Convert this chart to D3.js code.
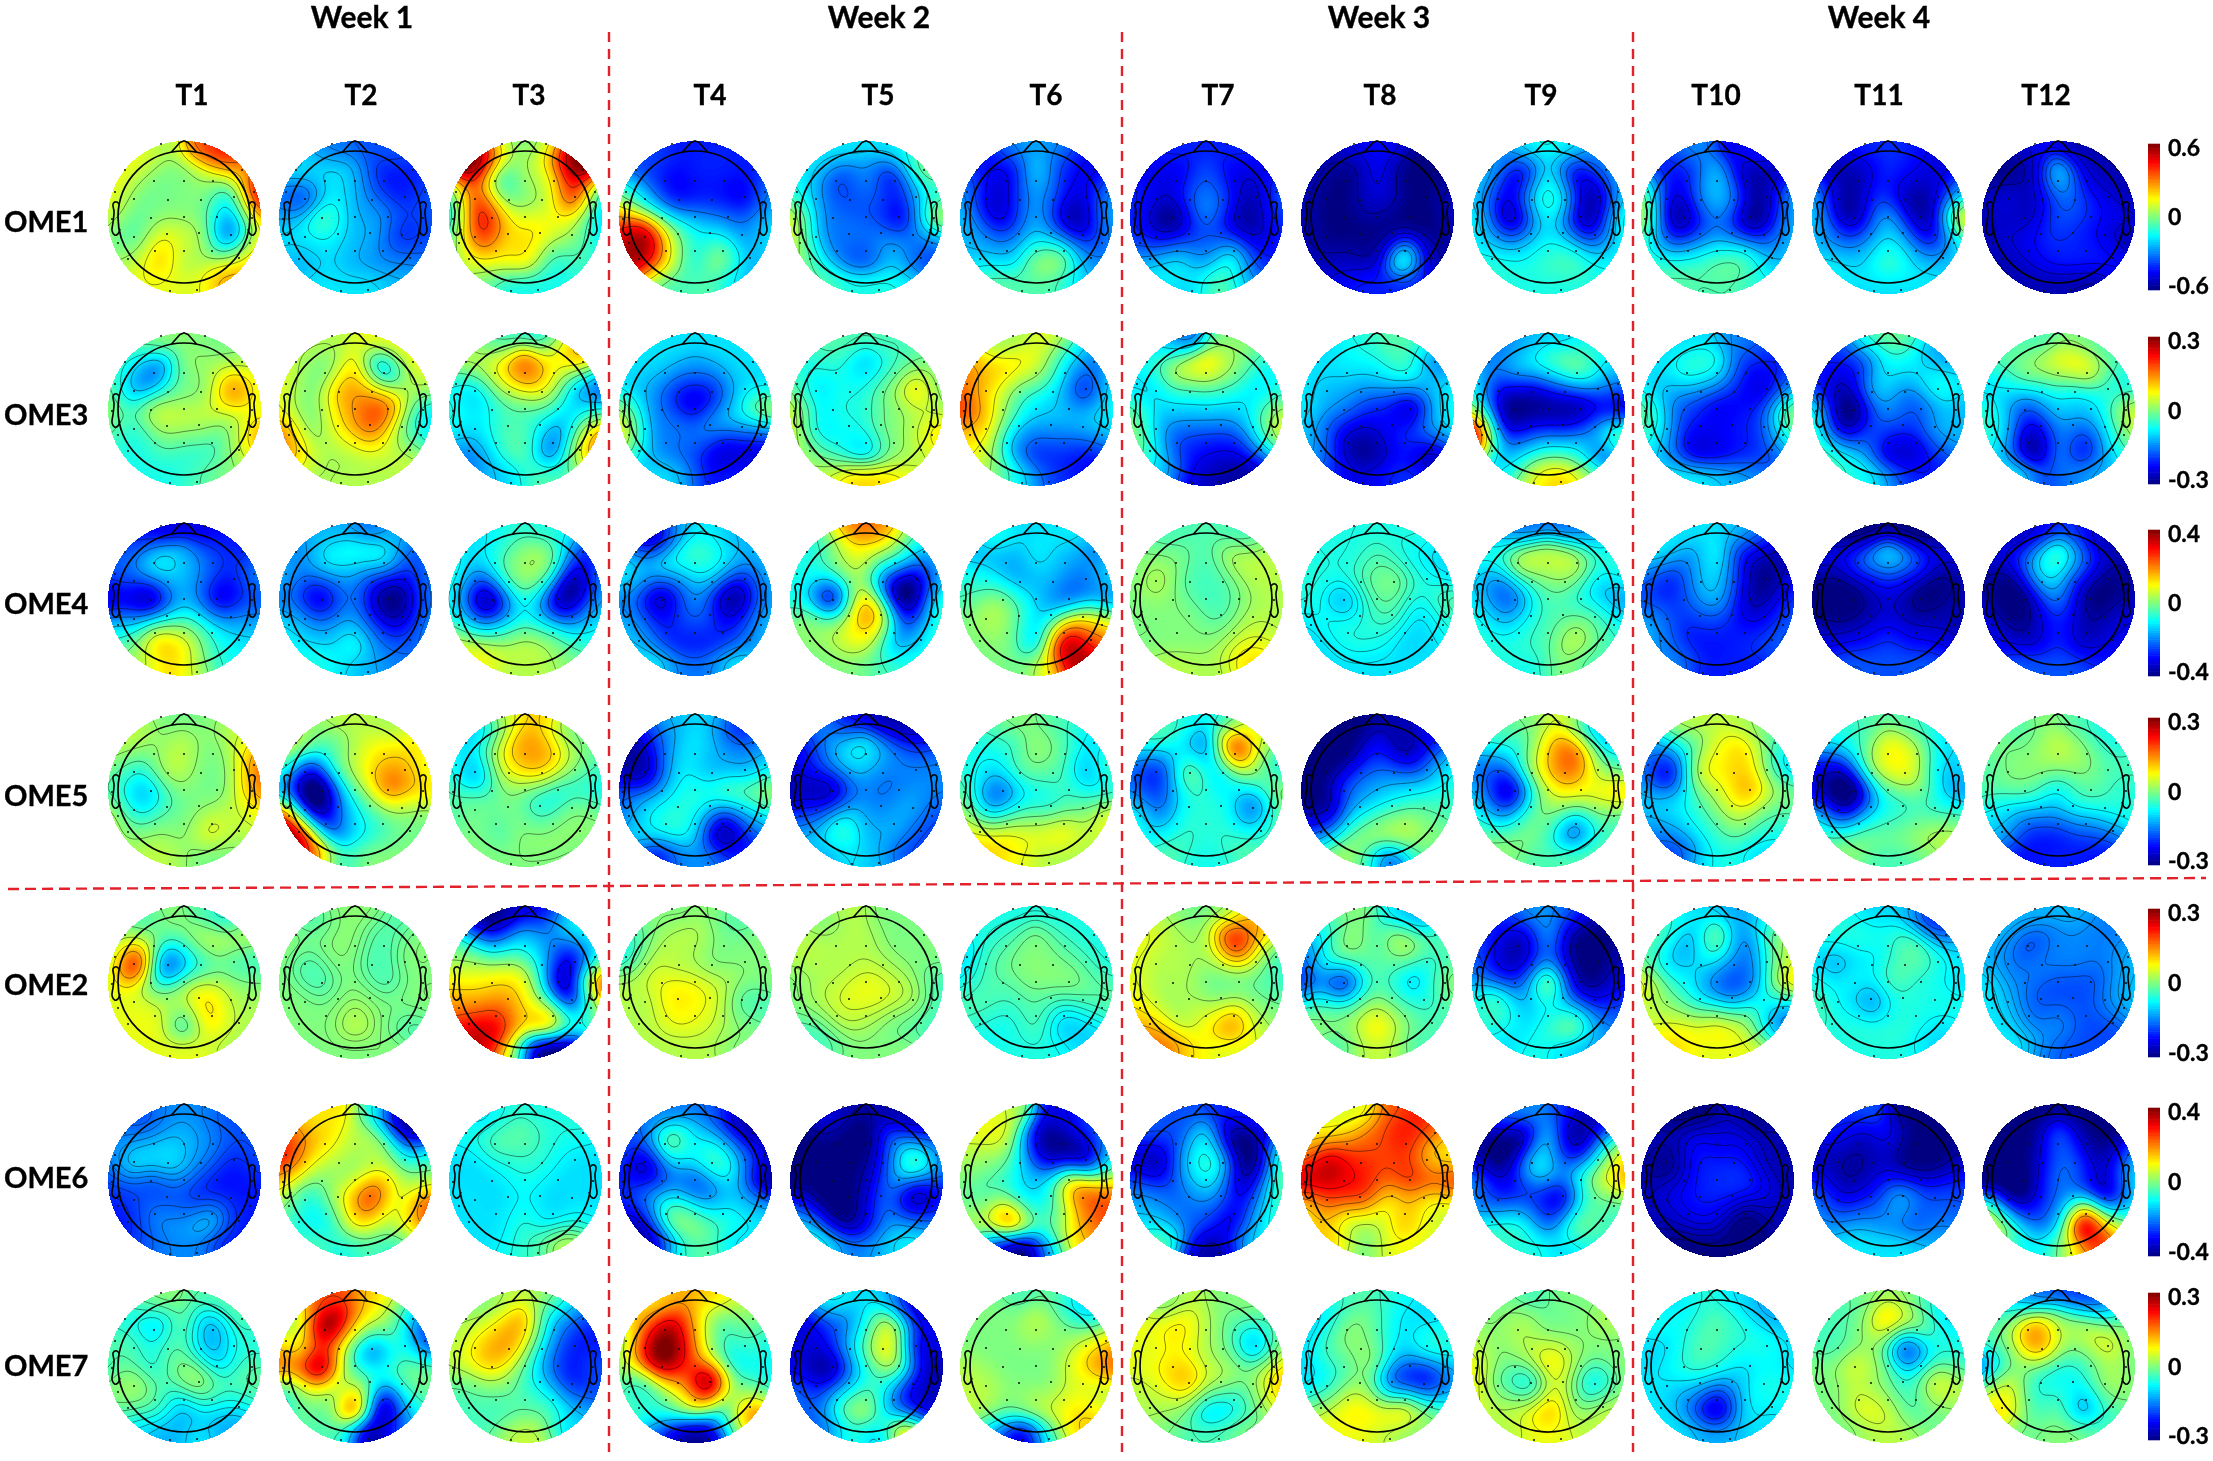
<!DOCTYPE html>
<html><head><meta charset="utf-8">
<script src="https://cdn.jsdelivr.net/npm/d3@7/dist/d3.min.js"></script>
<style>
html,body{margin:0;padding:0;background:#fff}
#wrap{position:relative;width:2213px;height:1461px;overflow:hidden}
canvas,svg{position:absolute;left:0;top:0}
text{font-family:Lato,"Open Sans",sans-serif;font-weight:700;fill:#000;stroke:#000;stroke-width:.35}
</style></head><body><div id="wrap"><canvas id="cv" width="2213" height="1461"></canvas><svg id="sv" width="2213" height="1461"></svg></div>
<script>
// Tick / row labels
const weeks = ["Week 1","Week 2","Week 3","Week 4"];
const times = ["T1","T2","T3","T4","T5","T6","T7","T8","T9","T10","T11","T12"];
const rows  = ["OME1","OME3","OME4","OME5","OME2","OME6","OME7"];
const limits = [0.6,0.3,0.4,0.3,0.3,0.4,0.3];

// Channel positions on the scalp (head radius = 66 units here), reading order
const channelX = [-45,-23,21,45, -59,58, -30,0,29, -69,-50,-16,17,50,70, -72,-33,0,33,68, -50,-17,15,47, -66,66, -56,-29,0,28,55, -42,-14,13,42];
const channelY = [-62,-73,-73,-62, -47,-47, -36,-36,-36, -25,-18,-17,-17,-20,-25, 2,1,0,0,1, 20,17,16,18, 26,26, 42,34,34,34,41, 64,74,73,64];
// Only these are rim estimates (no dot drawn)
const rimOnly = [0,3,31,34];

// Channel values in tenths of each row's colour limit, per T1..T12
const OME1 = [
[2,1,6,7, 2,4, 0,0,1, 2,0,0,0,-2,8, 1,0,0,-2,2, -1,2,1,-6, 0,2, 1,3,1,0,2, 2,2,2,4],
[-4,-5,-6,-6, -3,-7, -3,-4,-7, -5,-6,-3,-5,-7,-6, -4,-1,-4,-5,-6, -3,-3,-4,-7, -3,-6, -4,-3,-4,-5,-5, -3,-3,-3,-4],
[9,2,2,9, 10,10, 0,1,3, 0,7,0,1,7,-1, -1,6,2,2,-2, 7,3,3,1, 0,-2, 2,3,3,-1,-1, 0,-2,-2,-2],
[-6,-7,-7,-7, -6,-7, -7,-7,-7, -1,-3,-7,-7,-8,-5, 5,-1,-4,-5,-4, 10,0,-3,-5, 8,-3, 9,3,-2,0,-4, 1,-1,-1,-3],
[-3,-3,-3,-2, -3,0, -6,-5,-7, -2,-4,-6,-6,-4,-2, 1,-5,-6,-8,0, -4,-5,-5,-5, 1,-5, -1,-5,-6,-4,-6, -1,-2,-2,-3],
[-7,-5,-5,-7, -7,-8, -8,-4,-7, -5,-8,-6,-6,-8,-5, -4,-8,-4,-9,-5, -5,-5,-5,-8, -4,-5, -3,-4,-1,-1,-5, -1,-1,-1,-3],
[-7,-7,-7,-7, -8,-8, -8,-6,-8, -7,-8,-6,-6,-9,-6, -7,-10,-5,-9,-7, -8,-7,-7,-9, -6,-7, -4,-4,-5,-3,-7, -3,-3,-1,-4],
[-9,-8,-8,-10, -9,-10, -10,-8,-10, -9,-10,-9,-9,-10,-9, -9,-10,-9,-10,-9, -10,-10,-10,-10, -9,-9, -9,-9,-9,-2,-9, -8,-7,-7,-7],
[-5,-3,-3,-5, -4,-5, -8,-3,-8, -4,-7,-3,-3,-9,-4, -3,-9,-3,-9,-3, -5,-4,-4,-7, -3,-3, -2,-3,-2,-2,-3, -2,-2,-2,-2],
[-6,-5,-8,-7, -7,-9, -7,-4,-9, -1,-8,-5,-5,-9,-5, 0,-9,-5,-10,-5, -7,-6,-6,-7, -2,-4, -2,-3,-2,-2,-4, -1,-1,-1,-2],
[-8,-7,-7,-8, -9,-8, -9,-7,-8, -5,-9,-7,-9,-8,-4, -4,-9,-4,-9,1, -6,-5,-5,-8, -4,-3, -3,-4,-2,-4,-4, -3,-3,-3,-3],
[-9,-8,-9,-9, -10,-9, -9,-4,-8, -9,-8,-8,-6,-8,-9, -9,-9,-6,-7,-8, -8,-7,-7,-8, -9,-9, -9,-8,-7,-7,-7, -9,-9,-9,-9]
];
const OME3 = [
[-1,0,0,0, -2,1, -5,0,1, -1,-4,-1,0,5,2, 0,1,1,2,2, -2,1,1,0, -1,4, -2,-1,-1,-1,1, -2,-2,-1,0],
[1,1,2,2, 1,2, 0,3,-3, 2,0,4,4,1,1, 2,1,4,5,-2, 0,3,6,0, 5,-2, 3,1,2,2,1, 1,1,1,1],
[0,-1,-1,3, 1,3, 2,5,2, -2,-3,1,2,-3,-5, -2,-2,-1,-2,-2, -3,-1,-2,-3, -3,4, -5,-2,-1,-5,2, -4,-3,-1,-1],
[-3,-3,-3,-3, -3,-3, -4,-5,-4, -3,-4,-7,-7,-3,-3, 0,-5,-8,-4,0, -4,-5,-4,-4, 2,-6, -3,-5,-6,-8,-8, -3,-4,-7,-7],
[-1,-1,-1,-1, -2,0, -2,-3,-1, -1,-3,-2,0,3,0, 1,-2,-2,0,1, -3,-2,0,1, 1,3, 0,-2,-3,0,1, 1,3,3,2],
[1,1,1,-3, 4,-5, 3,1,-3, 5,3,-1,-3,-7,-3, 6,1,-3,-4,-3, 3,-3,-4,-4, 3,-4, 2,-3,-6,-6,-7, 0,-3,-6,-7],
[-3,-5,0,0, -2,-2, 1,2,0, -3,-3,-2,-2,-3,-2, -1,-3,-3,-3,0, -4,-5,-5,-3, 0,1, -2,-6,-7,-7,-5, -4,-8,-9,-9],
[-3,-2,-1,-2, -3,-5, -3,-3,-2, -3,-4,-5,-5,-4,-3, -3,-5,-7,-9,-3, -6,-8,-7,-5, -4,-4, -5,-9,-9,-7,-9, -7,-8,-7,-7],
[-5,-4,-3,-2, -5,-3, -4,-3,-1, -3,-8,-9,-7,-5,-5, 0,-9,-9,-9,-8, -8,-8,-8,-5, 9,0, -3,-4,-3,-3,-6, -2,2,3,0],
[-3,-3,-5,-6, -3,-7, -2,-3,-7, -3,-4,-5,-7,-8,-5, -1,-6,-8,-7,-1, -4,-7,-7,-6, -2,-2, -4,-8,-8,-7,-6, -3,-3,-4,-5],
[-6,-2,-1,-4, -7,-4, -7,-3,-3, -7,-9,-4,-5,-2,-3, -3,-10,-5,-6,-4, -9,-6,-6,-4, -2,-4, -2,-5,-8,-8,-6, -2,-3,-6,-7],
[-1,-1,0,-1, -1,-1, 0,1,2, -3,-3,-3,-3,-2,-2, -2,-6,-3,-3,1, -4,-7,-5,-3, -2,0, -4,-10,-5,-7,-3, -3,-6,-5,-4]
];
const OME4 = [
[-7,-8,-8,-7, -6,-7, -3,-4,-6, -6,-6,-4,-5,-7,-5, -8,-9,-4,-8,-6, -5,-3,-3,-5, -3,-4, -1,2,1,-2,-3, 1,3,1,-2],
[-4,-4,-5,-4, -5,-6, -3,-3,-3, -4,-6,-5,-7,-8,-5, -5,-8,-5,-10,-6, -5,-5,-7,-9, -3,-5, -3,-4,-3,-6,-6, -2,-3,-4,-5],
[-3,-2,-2,-3, -3,-7, -2,0,-1, -2,-6,-1,-1,-10,-5, -3,-9,-2,-9,-5, -6,-4,-4,-6, -1,-3, 1,-1,0,-1,-2, 2,1,1,0],
[-9,-5,-3,-4, -5,-4, -3,-2,-3, -3,-5,-5,-4,-7,-4, -5,-9,-5,-10,-5, -6,-6,-6,-7, -4,-4, -4,-7,-7,-7,-5, -3,-5,-5,-3],
[-1,4,4,-1, -2,-4, 0,1,-2, -2,-3,0,-6,-9,-4, -2,-8,3,-10,-3, 0,2,3,-7, 0,-2, 0,1,2,-4,-3, 0,0,-1,-2],
[-2,-3,-3,-3, -4,-5, -4,-3,-4, -2,-2,-4,-4,-5,-3, -1,0,-3,-5,-4, 1,-1,-3,2, 0,3, 0,0,-3,7,6, 0,0,3,9],
[-1,-1,-1,-1, 0,1, 0,-1,1, 0,1,-1,-1,1,1, 0,0,-1,0,1, 0,0,-1,1, 0,1, 0,0,0,1,2, 1,1,1,3],
[-2,-2,-2,-2, -2,-3, -2,-1,-2, -2,-2,-1,0,-2,-3, -2,-4,-1,-2,-1, -2,-2,-1,-3, -3,-2, -3,-2,-2,-3,-3, -3,-3,-3,-3],
[-4,-5,-5,-4, -2,-2, 1,1,1, -3,-5,-1,0,-3,-2, -3,-5,-1,-2,-4, -4,-2,-1,-1, -2,-2, -2,-2,-1,1,-1, -2,-2,0,-1],
[-3,-3,-4,-6, -3,-9, -5,-3,-8, -5,-7,-4,-6,-10,-8, -6,-6,-4,-9,-7, -6,-6,-7,-8, -4,-6, -5,-7,-7,-7,-6, -5,-7,-7,-7],
[-10,-10,-10,-10, -8,-8, -6,-4,-6, -9,-10,-8,-8,-10,-9, -10,-10,-8,-10,-9, -10,-9,-9,-9, -9,-9, -8,-8,-7,-8,-8, -6,-6,-6,-6],
[-9,-8,-7,-9, -8,-9, -5,-2,-6, -9,-10,-4,-7,-10,-9, -9,-10,-5,-10,-9, -10,-8,-8,-9, -8,-8, -8,-9,-7,-9,-8, -6,-6,-6,-7]
];
const OME5 = [
[1,0,0,1, 1,2, 0,1,0, 0,-2,1,0,1,5, -1,-3,0,0,4, -3,-1,0,1, 1,2, 0,0,0,2,1, 1,1,0,0],
[0,1,1,1, 1,3, -2,1,3, -1,-8,-1,3,4,2, -4,-10,-1,5,3, -9,-5,-1,1, 7,0, 8,-6,-3,-1,0, 5,-1,0,0],
[-3,1,3,0, -3,0, 1,4,3, -2,-4,2,3,0,-1, -1,-1,0,-2,-2, 0,0,-2,0, -1,0, 0,-1,0,0,0, 0,0,0,0],
[-6,-4,-4,-7, -9,-5, -5,-3,-4, -9,-9,-3,-4,-4,-3, -6,-4,-2,-1,0, -3,-2,-3,-3, -5,-3, -3,-2,-3,-9,-6, -7,-5,-5,-7],
[-5,-7,-9,-9, -7,-7, -4,-3,-5, -8,-7,-4,-5,-5,-5, -9,-9,-5,-5,-5, -7,-4,-5,-4, -6,-6, -4,-2,-4,-4,-6, -4,-3,-4,-6],
[-1,0,-1,-2, -2,-3, -2,0,-1, -2,-3,-1,-1,-4,-1, -1,-5,-2,-1,-2, -4,-2,-2,-1, 1,2, 2,1,1,2,1, 3,2,1,1],
[-1,-2,-1,2, -2,1, -3,-4,6, -5,-7,0,-3,0,-2, -5,-4,-2,-2,0, -6,-2,-2,-6, -2,-1, -3,-2,-2,-2,-2, -1,-2,-2,-1],
[-10,-10,-9,-8, -10,-7, -10,-7,-9, -10,-10,-6,-5,-5,-3, -10,-6,-4,-3,-2, -10,-4,-2,-1, -8,-1, -5,-2,0,1,0, 0,-1,-5,-1],
[-1,0,1,-3, -2,-3, -2,3,5, -5,-6,1,5,1,-1, -4,-8,1,2,3, -6,-1,1,1, -2,-1, -1,-1,-1,-5,-1, 0,-1,-1,-1],
[0,1,1,0, -4,-1, -2,2,3, -5,-8,2,3,0,-3, -4,-3,1,4,0, -3,-1,2,0, -4,-1, -5,-3,-1,0,-2, -6,-3,-2,-3],
[-2,-1,-1,-2, -3,-3, -2,2,1, -7,-9,0,2,-3,-3, -8,-10,-1,0,-4, -9,-4,-2,-2, -3,-1, -2,-2,-1,0,1, 0,-1,-1,0],
[-1,0,-1,-2, 0,-2, 0,1,0, -1,0,0,0,-1,-1, -1,-1,-3,-1,-2, -3,-3,-2,-2, -3,-2, -4,-6,-6,-5,-5, -7,-7,-7,-7]
];
const OME2 = [
[-1,0,-1,-2, 1,1, 0,-1,1, 1,8,-6,-2,-1,-1, 2,-1,0,1,0, 2,1,3,1, 2,1, 2,2,-1,3,1, 2,2,2,1],
[-1,0,0,-1, 0,0, 0,0,-1, 0,-1,0,-1,0,0, 0,-1,0,-1,0, 0,0,0,0, 0,0, 0,0,1,0,-1, 0,0,0,0],
[-10,-9,-7,-3, -3,-3, -4,-3,-5, 0,1,1,-3,-8,-2, 3,3,2,-8,4, 4,4,0,-8, 5,0, 8,7,3,3,-2, 8,1,-9,-9],
[0,0,0,-1, -1,0, 1,1,0, -2,1,1,0,0,0, 1,2,2,1,0, 1,3,2,-1, 1,-1, 1,2,2,1,0, 1,1,1,0],
[0,1,0,0, 1,0, 1,1,0, 1,1,1,1,0,0, 0,1,2,1,-1, 1,2,2,1, 0,-1, -1,1,1,0,-1, -1,0,0,0],
[-2,-2,-2,-2, -2,-2, -1,0,-1, -3,-1,0,0,-1,-2, -2,-1,0,0,-1, -1,-1,-1,-1, -1,-1, -2,-2,-1,-3,-3, -2,-2,-2,-3],
[1,0,1,4, 2,3, 1,1,7, 2,1,1,1,1,-1, 2,1,0,0,-1, 1,1,0,0, 3,0, 4,1,2,4,1, 5,3,2,2],
[-1,0,-3,-4, -3,-1, 0,-1,1, -5,-2,-1,-1,-2,-1, -6,-7,-1,-3,0, -2,-1,-1,-2, -1,-1, 0,0,2,0,-1, -1,1,1,-1],
[-7,-5,-6,-9, -7,-10, -9,-5,-10, -6,-8,-7,-8,-10,-9, -4,-6,1,-9,-8, -1,-4,-5,-8, -2,-6, -2,-3,-2,-1,-5, -3,-2,-3,-4],
[-2,-3,-4,-3, -1,0, -4,-1,-5, -1,-3,-3,-5,-2,1, 2,-2,-5,-5,2, 0,-3,-5,-2, 1,-4, 2,1,1,0,-4, 3,2,2,1],
[-2,-3,-4,-7, -2,-5, -2,-2,-1, -3,-4,-3,-1,-2,-3, -2,-2,-1,-2,-3, -3,-5,-2,-2, -1,-2, -2,-2,-2,-2,-3, -2,-2,-2,-3],
[-4,-4,-4,-5, -4,-5, -6,-5,-5, -4,-5,-5,-5,-5,-4, -3,-5,-6,-6,-4, -4,-6,-6,-5, -3,-4, -3,-5,-5,-6,-6, -3,-5,-6,-6]
];
const OME6 = [
[-6,-5,-5,-6, -5,-6, -4,-4,-5, -5,-3,-3,-5,-7,-6, -6,-6,-5,-7,-7, -6,-6,-7,-7, -7,-7, -7,-5,-5,-4,-7, -6,-5,-5,-7],
[3,3,-3,-9, 5,-9, 3,1,0, 7,3,1,1,-2,-2, 3,0,1,3,1, -2,2,7,1, 0,6, -2,-2,3,2,3, -1,-2,-1,-1],
[-3,-2,-2,-2, -2,-2, -1,-1,-2, -3,-3,-2,-2,-3,-3, -3,-3,-2,-3,-3, -3,-3,-3,-3, -3,-3, -3,-3,-2,-3,-2, -3,-2,-1,1],
[-5,-5,-6,-9, -6,-9, -1,-3,-4, -6,-9,-3,-1,-5,-8, -7,-6,-6,-3,-9, -5,-3,-5,-4, -7,-4, -9,-1,-1,-2,-3, -8,-2,-1,-3],
[-8,-9,-9,-9, -10,-7, -10,-10,-5, -10,-10,-10,-7,-1,-5, -10,-10,-9,-4,-6, -10,-10,-6,-10, -6,-7, -4,-10,-8,-5,-5, -3,-5,-4,-3],
[2,1,-8,-7, 2,-6, 1,-8,-9, 1,0,-3,-8,-9,-3, 0,-1,-3,3,2, -1,-3,-2,5, 0,6, 1,5,-1,1,5, -6,-10,-4,3],
[-6,-6,-7,-7, -6,-8, -6,-3,-10, -8,-9,-3,-3,-10,-2, -6,-6,-3,-9,-2, -5,-5,-5,-6, -4,-2, -3,-5,-6,-8,-3, -1,-8,-9,-4],
[2,2,6,7, 3,5, 5,6,7, 5,9,7,6,4,3, 8,7,6,7,6, 7,7,3,3, 3,2, 4,2,2,4,2, 3,0,2,2],
[-6,-5,-7,-9, -9,-5, -10,-4,-9, -9,-10,-3,-6,-2,2, -5,-7,-4,-1,3, -7,-7,-9,-1, -5,-1, -2,-3,-6,-1,-1, -2,-2,-3,-2],
[-10,-10,-9,-10, -9,-9, -8,-8,-8, -9,-10,-7,-7,-9,-9, -9,-8,-7,-7,-9, -8,-7,-7,-8, -9,-9, -9,-8,-8,-10,-9, -10,-10,-10,-10],
[-7,-6,-10,-10, -7,-10, -9,-8,-10, -9,-9,-9,-10,-10,-9, -7,-9,-7,-8,-7, -8,-7,-4,-6, -5,-6, -5,-5,-5,-6,-5, -3,-3,-3,-4],
[-10,-10,-10,-10, -10,-10, -10,-6,-9, -10,-10,-8,-6,-9,-5, -10,-10,-5,-7,-4, -10,-7,-5,-9, 0,-3, 0,-6,-4,7,1, -2,-2,2,6]
];
const OME7 = [
[-1,0,-1,-1, -2,-1, -3,-1,-4, -1,-1,-1,-3,-2,-2, -1,-2,0,-3,-1, 1,-1,1,-1, 0,-1, -1,-1,-3,-2,-3, -3,-4,-3,-4],
[5,6,3,0, 1,-4, 10,3,0, 3,3,2,-5,-2,-6, 5,10,-1,-2,-1, 3,0,-1,-1, -2,-1, 0,0,5,-9,-3, -1,-2,-9,-6],
[0,1,0,-3, 1,-6, 3,3,-4, 1,3,4,-3,-7,-7, 1,3,-1,-6,-6, 0,0,-3,-7, -1,-6, -1,-1,-1,-2,-4, -1,1,1,-3],
[3,4,3,1, 4,0, 9,4,-1, 1,8,9,1,-1,-2, 1,9,5,-2,-2, -2,4,12,0, -1,-1, -1,0,3,-1,5, -5,-9,-9,0],
[-3,-3,-4,-8, -8,-8, -6,-2,1, -8,-8,-3,2,-8,-7, -8,-9,-2,0,-9, -8,-4,-2,-8, -5,-8, -6,-2,0,-5,-8, -5,-2,-3,2],
[0,-1,-1,-3, 0,-2, 0,1,0, 0,0,0,0,2,3, 1,0,0,2,5, 1,0,0,2, 1,1, 1,0,1,2,3, -4,-8,-2,3],
[0,1,0,0, 2,-1, 3,1,-1, 2,2,2,0,-4,0, 2,3,1,0,2, 2,4,1,0, 1,3, 1,1,-2,-2,0, 0,-1,-1,0],
[-2,-1,-2,-3, -3,-3, 0,-1,-3, -3,-1,0,-3,-2,-2, -3,-1,0,-5,-4, -2,0,-7,-8, -2,-4, 1,2,1,1,-1, 2,2,1,0],
[0,-1,0,0, 0,1, 1,0,0, 1,0,1,1,0,0, 2,0,3,0,0, -1,-3,1,-3, 2,0, 1,1,3,0,1, 1,2,2,1],
[-3,-2,-3,-4, -2,-4, -2,-1,-2, -3,-3,-1,-2,-2,-3, -3,-2,-2,-3,-3, -3,-3,-4,-2, -3,-2, -3,-5,-8,-3,-3, -3,-4,-4,-3],
[-1,0,0,-2, -1,-3, 0,2,0, -1,-1,0,-7,-2,-2, 0,2,0,-2,-1, 0,0,-2,2, 0,1, 0,2,1,-1,0, 0,1,1,0],
[-3,-5,-6,-5, -1,-1, 4,1,1, -1,0,4,0,2,0, -4,0,-2,-1,0, 2,-2,-2,1, 1,0, 3,-1,-1,-4,-1, 0,0,0,-1]
];
const rowData = [OME1,OME3,OME4,OME5,OME2,OME6,OME7];
rowData.forEach((r,i)=>r.forEach((h,j)=>{ if(h.length!==channelX.length) throw new Error("bad length "+rows[i]+" T"+(j+1)+" "+h.length); }));

// Layout
const colX = [184,355,525,695,866,1036,1206,1377,1548,1717,1888,2058];
const rowY = [217,409,599,790,982,1180,1366];
const labelY = [222,415,604,796,985,1178,1366];
const timeX = [192,361,529,710,878,1046,1218,1380,1541,1716,1879,2046];
const weekX = [362,879,1379,1879];
const barTop = [144,337,530,718,909,1108,1293];
const barBottom = [290,484,676,865,1057,1256,1440];
const vLines = [609,1122,1633];
const R = 76.5, headR = 66, sigma = 16;

const jet = d3.scaleLinear().domain([0,.125,.375,.625,.875,1])
  .range(["#000080","#0000ff","#00ffff","#ffff00","#ff0000","#800000"]).clamp(true);
const lut = d3.range(256).map(i=>d3.rgb(jet(i/255)));

// Normalised Gaussian surface through the channel values
const N = channelX.length;
const K = (dx,dy) => Math.exp(-(dx*dx+dy*dy)/(2*sigma*sigma));
const S = d3.range(N).map(i=>{
  const r=d3.range(N).map(j=>K(channelX[i]-channelX[j],channelY[i]-channelY[j]));
  const s=d3.sum(r); return r.map(x=>x/s);
});
function weights(v){
  let w=v.slice();
  for(let it=0;it<3;it++){
    const sm=S.map(r=>d3.sum(r,(x,i)=>x*w[i]));
    w=w.map((x,i)=>x+0.8*(v[i]-sm[i]));
  }
  return w;
}

const span = 78, size = span*2+1;
const basis = new Float64Array(size*size*N);
for(let y=0;y<size;y++)for(let x=0;x<size;x++){
  let s=0; const o=(y*size+x)*N;
  for(let k=0;k<N;k++){const g=K(x-span-channelX[k],y-span-channelY[k]);basis[o+k]=g;s+=g;}
  for(let k=0;k<N;k++)basis[o+k]/=s;
}
function field(w){
  const f=new Float64Array(size*size);
  for(let p=0;p<f.length;p++){let s=0;const o=p*N;for(let k=0;k<N;k++)s+=w[k]*basis[o+k];f[p]=s;}
  return f;
}

const ctx = document.getElementById("cv").getContext("2d");
ctx.fillStyle="#fff";ctx.fillRect(0,0,2213,1461);
const img = ctx.getImageData(0,0,2213,1461);
const svg = d3.select("#sv");
svg.append("defs").append("clipPath").attr("id","disc").append("circle").attr("r",R);

const sx = d3.scaleLinear().domain([-1,1]).range([-headR,headR]);
const earPts = [[-.985,-.2],[-1.03,-.23],[-1.075,-.2],[-1.06,-.08],[-1.075,.08],[-1.09,.21],[-1.045,.275],[-1,.255],[-.97,.18]];
const earLine = d3.line().x(d=>sx(d[0])).y(d=>sx(d[1])).curve(d3.curveCatmullRom);
const noseLine = d3.line().x(d=>sx(d[0])).y(d=>sx(d[1])).curve(d3.curveLinear);
const contourPath = d3.geoPath(d3.geoIdentity().translate([-span-.5,-span-.5]));

rowData.forEach((rowVals,ri)=>{
  const lim = limits[ri];
  const color01 = d3.scaleLinear().domain([-lim,lim]).range([0,1]).clamp(true);
  rowVals.forEach((vals,ci)=>{
    const cx=colX[ci], cy=rowY[ri];
    const f = field(weights(vals.map(v=>v*lim/10)));
    let mn=Infinity,mx=-Infinity;
    for(let y=0;y<size;y++)for(let x=0;x<size;x++){
      const dx=x-span,dy=y-span;
      if(dx*dx+dy*dy>R*R) continue;
      const v=f[y*size+x];
      if(v<mn)mn=v; if(v>mx)mx=v;
      const c=lut[Math.round(color01(v)*255)], o=((cy+dy)*2213+(cx+dx))*4;
      img.data[o]=c.r;img.data[o+1]=c.g;img.data[o+2]=c.b;img.data[o+3]=255;
    }
    const g=svg.append("g").attr("transform",`translate(${cx},${cy})`);
    const lv=d3.range(1,7).map(i=>mn+(mx-mn)*i/7);
    const cs=d3.contours().size([size,size]).thresholds(lv)(Array.from(f));
    g.append("g").attr("clip-path","url(#disc)").selectAll("path").data(cs).join("path")
      .attr("d",contourPath).attr("fill","none").attr("stroke","#000").attr("stroke-opacity",.6).attr("stroke-width",.75);
    g.append("circle").attr("r",headR).attr("fill","none").attr("stroke","#000").attr("stroke-width",1.7);
    g.append("path").attr("d",noseLine([[-.19,-.985],[-.06,-1.13],[0,-1.155],[.06,-1.13],[.19,-.985]])).attr("fill","none").attr("stroke","#000").attr("stroke-width",1.6);
    g.append("path").attr("d",earLine(earPts)).attr("fill","none").attr("stroke","#000").attr("stroke-width",1.6);
    g.append("path").attr("d",earLine(earPts.map(p=>[-p[0],p[1]]))).attr("fill","none").attr("stroke","#000").attr("stroke-width",1.6);
    g.selectAll("circle.e").data(d3.range(N).filter(i=>!rimOnly.includes(i))).join("circle").attr("class","e")
      .attr("cx",i=>channelX[i]).attr("cy",i=>channelY[i]).attr("r",1).attr("fill","#111");
  });
  const y=d3.scaleLinear().domain([-lim,lim]).range([barBottom[ri],barTop[ri]]);
  const steps=d3.range(64);
  const by=d3.scaleBand().domain(steps).range([barBottom[ri],barTop[ri]]);
  svg.append("g").selectAll("rect").data(steps).join("rect")
    .attr("x",2148).attr("width",12).attr("y",d=>by(d)-.3).attr("height",by.bandwidth()+.6)
    .attr("fill",d=>jet((d+.5)/64));
  const fmt=d=>d===0?"0":(d<0?"-":"")+Math.abs(d).toFixed(1);
  [[lim,barTop[ri]+4],[0,y(0)],[-lim,barBottom[ri]-4]].forEach(([t,ty])=>{
    svg.append("text").attr("x",2168).attr("y",ty).attr("dy",".36em").attr("font-size",23).text(fmt(t));
  });
  svg.append("text").attr("x",4).attr("y",labelY[ri]).attr("dy",".36em").attr("font-size",29).text(rows[ri]);
});
ctx.putImageData(img,0,0);

times.forEach((t,i)=>svg.append("text").attr("x",timeX[i]).attr("y",95).attr("dy",".36em").attr("text-anchor","middle").attr("font-size",28).text(t));
weeks.forEach((t,i)=>svg.append("text").attr("x",weekX[i]).attr("y",17).attr("dy",".36em").attr("text-anchor","middle").attr("font-size",30).text(t));

const red="#e2212b";
vLines.forEach(x=>svg.append("line").attr("x1",x).attr("x2",x).attr("y1",32).attr("y2",1452).attr("stroke",red).attr("stroke-width",2.4).attr("stroke-dasharray","10 7"));
svg.append("line").attr("x1",8).attr("x2",2206).attr("y1",889).attr("y2",878).attr("stroke",red).attr("stroke-width",2.4).attr("stroke-dasharray","11 6");
</script></body></html>
